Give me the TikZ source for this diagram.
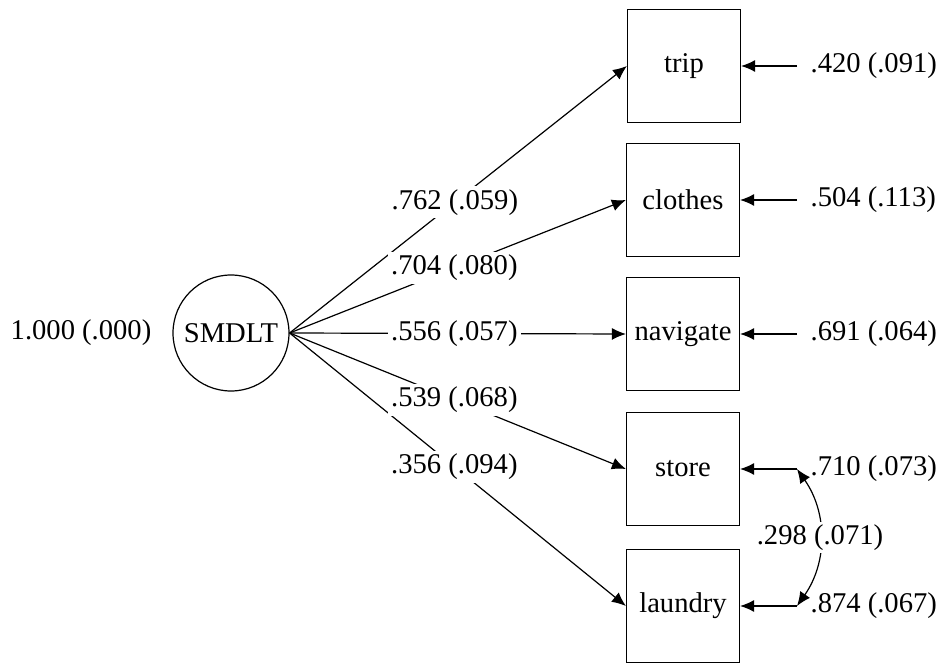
\documentclass[tikz,border=0pt]{standalone}
\usepackage{fontspec}
\setmainfont{Liberation Serif}
\usetikzlibrary{arrows.meta}

\begin{document}
\begin{tikzpicture}[x=0.5pt, y=-0.5pt, >={Latex[length=7pt,width=6pt]},
        font=\fontsize{14.3pt}{16pt}\selectfont, line width=0.6pt,
        obs/.style={draw, rectangle, minimum width=56.5pt, minimum height=56.5pt, inner sep=0pt},
        latent/.style={draw, circle, minimum size=58pt, inner sep=0pt},
        lbl/.style={fill=white, inner sep=1.5pt},
        res/.style={anchor=west, inner sep=6.5pt}]

        \useasboundingbox (0,0) rectangle (944,663);

        % --- Латентный фактор ---
        \node[latent] (smdlt) at (231,333) {SMDLT};
        \node (vsmdlt) at (81,333) {1.000 (.000)};

        % --- Наблюдаемые переменные ---
        \node[obs] (trip)     at (684,66)  {trip};
        \node[obs] (clothes)  at (683,200) {clothes};
        \node[obs] (navigate) at (683,334) {navigate};
        \node[obs] (store)    at (683,469) {store};
        \node[obs] (laundry)  at (683,606) {laundry};

        % --- Остатки ---
        \node[res] (etrip)     at (797,66)  {.420 (.091)};
        \node[res] (eclothes)  at (797,200) {.504 (.113)};
        \node[res] (enavigate) at (797,334) {.691 (.064)};
        \node[res] (estore)    at (797,469) {.710 (.073)};
        \node[res] (elaundry)  at (797,606) {.874 (.067)};

        % --- Нагрузки ---
        \draw[->] (smdlt.east) -- (trip.west);
        \draw[->] (smdlt.east) -- (clothes.west);
        \draw[->] (smdlt.east) -- (navigate.west);
        \draw[->] (smdlt.east) -- (store.west);
        \draw[->] (smdlt.east) -- (laundry.west);

        % --- Подписи нагрузок ---
        \path (smdlt.east) -- (trip.west)     node[lbl, pos=0.49] (ltrip)     {.762 (.059)};
        \path (smdlt.east) -- (clothes.west)  node[lbl, pos=0.49] (lclothes)  {.704 (.080)};
        \path (smdlt.east) -- (navigate.west) node[lbl, pos=0.49] (lnavigate) {.556 (.057)};
        \path (smdlt.east) -- (store.west)    node[lbl, pos=0.49] (lstore)    {.539 (.068)};
        \path (smdlt.east) -- (laundry.west)  node[lbl, pos=0.49] (llaundry)  {.356 (.094)};

        % --- Стрелки остатков ---
        \draw[->] (etrip.west) -- (trip.east);
        \draw[->] (eclothes.west) -- (clothes.east);
        \draw[->] (enavigate.west) -- (navigate.east);
        \draw[->] (estore.west) -- (store.east);
        \draw[->] (elaundry.west) -- (laundry.east);

        % --- Ковариация остатков ---
        \draw[<->] (estore.west) to[bend left=35]
            node[lbl] (cov) {.298 (.071)} (elaundry.west);

    \end{tikzpicture}
\end{document}
